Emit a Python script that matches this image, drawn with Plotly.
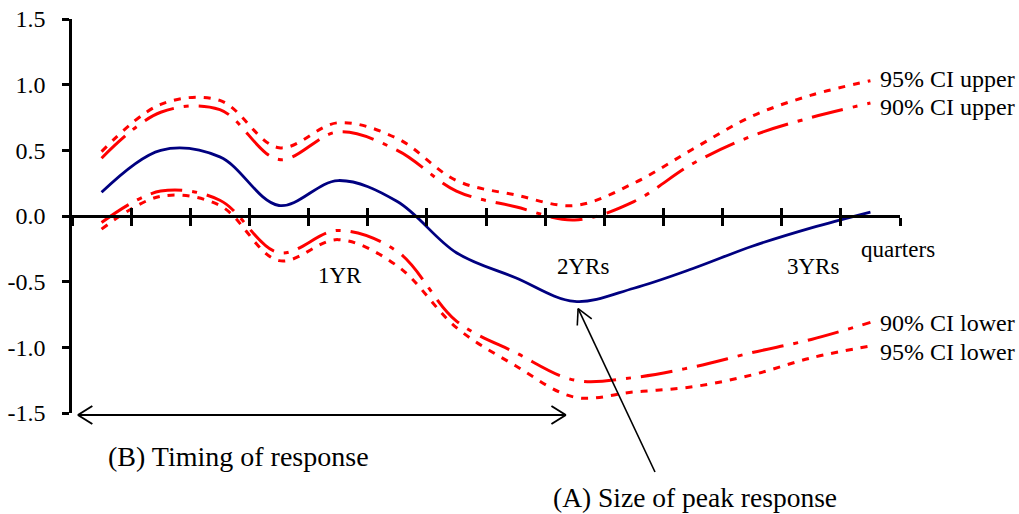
import math
import plotly.graph_objects as go

# ---------------- data ----------------
quarters = list(range(14))  # quarters after the shock (category positions)
response = [0.18, 0.50, 0.45, 0.08, 0.27, 0.11, -0.28, -0.47, -0.65, -0.55, -0.40, -0.23, -0.09, 0.03]
upper95 = [0.49, 0.85, 0.88, 0.52, 0.71, 0.59, 0.27, 0.16, 0.08, 0.25, 0.51, 0.76, 0.92, 1.03]
upper90 = [0.44, 0.79, 0.81, 0.43, 0.64, 0.50, 0.19, 0.07, -0.03, 0.11, 0.40, 0.61, 0.75, 0.86]
lower90 = [-0.05, 0.19, 0.12, -0.28, -0.11, -0.27, -0.80, -1.04, -1.25, -1.23, -1.15, -1.04, -0.94, -0.81]
lower95 = [-0.10, 0.15, 0.08, -0.34, -0.18, -0.38, -0.85, -1.14, -1.38, -1.34, -1.30, -1.21, -1.08, -0.99]

y_ticks = [-1.5, -1.0, -0.5, 0.0, 0.5, 1.0, 1.5]
y_ticktext = ["-1.5", "-1.0", "-0.5", "0.0", "0.5", "1.0", "1.5"]
year_labels = ["1YR", "2YRs", "3YRs"]
year_positions = [4, 8, 12]

# ---------------- geometry ----------------
WIDTH, HEIGHT = 1019, 514
L, T, PW, PH = 72, 19, 828, 394
XR = (-0.5, len(quarters) - 0.5)
YR = (-1.5, 1.5)
FONT = "Liberation Serif, Times New Roman, serif"
RED = "#FF0000"
NAVY = "#000080"


def d2px(x):
    return L + (x - XR[0]) / (XR[1] - XR[0]) * PW


def d2py(y):
    return T + (YR[1] - y) / (YR[1] - YR[0]) * PH


def pxp(px):
    return (px - L) / PW


def pyp(py):
    return (T + PH - py) / PH


fig = go.Figure()

fig.add_trace(go.Scatter(x=quarters, y=upper95, mode="lines",
                         line=dict(color=RED, width=3, dash="7px,8px", shape="spline", smoothing=1),
                         hoverinfo="skip"))
fig.add_trace(go.Scatter(x=quarters, y=upper90, mode="lines",
                         line=dict(color=RED, width=3, dash="32px,10px,5px,10px", shape="spline", smoothing=1),
                         hoverinfo="skip"))
fig.add_trace(go.Scatter(x=quarters, y=lower90, mode="lines",
                         line=dict(color=RED, width=3, dash="32px,10px,5px,10px", shape="spline", smoothing=1),
                         hoverinfo="skip"))
fig.add_trace(go.Scatter(x=quarters, y=lower95, mode="lines",
                         line=dict(color=RED, width=3, dash="7px,8px", shape="spline", smoothing=1),
                         hoverinfo="skip"))
fig.add_trace(go.Scatter(x=quarters, y=response, mode="lines", xaxis="x2", yaxis="y",
                         line=dict(color=NAVY, width=2.8, shape="spline", smoothing=1),
                         hoverinfo="skip"))

tick_x = [i - 0.5 for i in range(len(quarters) + 1)]

fig.update_layout(
    width=WIDTH, height=HEIGHT,
    margin=dict(l=L, r=WIDTH - L - PW, t=T, b=HEIGHT - T - PH, pad=0, autoexpand=False),
    paper_bgcolor="white", plot_bgcolor="white",
    showlegend=False,
    font=dict(family=FONT, size=24, color="black"),
    xaxis=dict(range=list(XR), anchor="free", position=0.5, showgrid=False, zeroline=False,
               showline=True, linecolor="black", linewidth=2.5, automargin=False,
               tickmode="array", tickvals=tick_x, showticklabels=False,
               ticks="outside", ticklen=8, tickwidth=2.5, tickcolor="black"),
    xaxis2=dict(range=list(XR), overlaying="x", anchor="free", position=0.5, showgrid=False,
                zeroline=False, showline=False, automargin=False,
                tickmode="array", tickvals=tick_x, showticklabels=False,
                ticks="inside", ticklen=8, tickwidth=2.5, tickcolor="black"),
    yaxis=dict(range=list(YR), anchor="x", showgrid=False, zeroline=False, automargin=False,
               showline=True, linecolor="black", linewidth=2.5,
               tickmode="array", tickvals=y_ticks, ticktext=y_ticktext,
               ticks="outside", ticklen=7, tickwidth=2.5, tickcolor="black",
               ticklabelstandoff=12,
               tickfont=dict(family=FONT, size=24, color="black")),
)

annotations = []
# year labels under the axis
year_label_py = {"1YR": 275, "2YRs": 266, "3YRs": 266}
year_label_dx = {"1YR": 2, "2YRs": 8, "3YRs": 2}
for lab, pos in zip(year_labels, year_positions):
    annotations.append(dict(x=pxp(d2px(pos) + year_label_dx[lab]), y=pyp(year_label_py[lab]),
                            xref="paper", yref="paper", text=lab, showarrow=False,
                            xanchor="center", yanchor="middle",
                            font=dict(family=FONT, size=23, color="black")))
annotations.append(dict(x=pxp(898), y=pyp(249), xref="paper", yref="paper", text="quarters",
                        showarrow=False, xanchor="center", yanchor="middle",
                        font=dict(family=FONT, size=23, color="black")))
# band labels
for txt, py in [("95% CI upper", 79), ("90% CI upper", 107), ("90% CI lower", 323), ("95% CI lower", 352)]:
    annotations.append(dict(x=pxp(878), y=pyp(py), xref="paper", yref="paper", text=txt,
                            showarrow=False, xanchor="left", yanchor="middle",
                            font=dict(family=FONT, size=24, color="black")))
annotations.append(dict(x=pxp(106), y=pyp(456), xref="paper", yref="paper",
                        text="(B) Timing of response", showarrow=False,
                        xanchor="left", yanchor="middle",
                        font=dict(family=FONT, size=28, color="black")))
annotations.append(dict(x=pxp(551), y=pyp(497), xref="paper", yref="paper",
                        text="(A) Size of peak response", showarrow=False,
                        xanchor="left", yanchor="middle",
                        font=dict(family=FONT, size=27.5, color="black")))
fig.update_layout(annotations=annotations)


def vhead(tipx, tipy, dirx, diry, length=16, ang=28):
    """Open V arrow head (in pixels) pointing along (dirx, diry) from its tail side."""
    n = math.hypot(dirx, diry)
    ux, uy = dirx / n, diry / n
    a = math.radians(ang)
    pts = []
    for s in (1, -1):
        ca, sa = math.cos(s * a), math.sin(s * a)
        bx = -(ux * ca - uy * sa)
        by = -(ux * sa + uy * ca)
        pts.append((tipx + bx * length, tipy + by * length))
    return pts


def seg(x0, y0, x1, y1, width):
    return dict(type="line", xref="paper", yref="paper",
                x0=pxp(x0), y0=pyp(y0), x1=pxp(x1), y1=pyp(y1),
                line=dict(color="black", width=width))


shapes = []
# (B) double arrow: from the y axis to the peak quarter
peak_i = response.index(min(response))
bx0, bx1, by = d2px(-0.4), d2px(peak_i - 0.15), d2py(-1.5) + 2
shapes.append(seg(bx0, by, bx1, by, 2))
for tipx, d in [(bx0, -1), (bx1, 1)]:
    for hx, hy in vhead(tipx, by, d, 0, length=17, ang=32):
        shapes.append(seg(tipx, by, hx, hy, 2))

# (A) arrow to the peak response
px_peak, py_peak = d2px(peak_i), d2py(response[peak_i])
tailx, taily = 655, 472
dx, dy = px_peak - tailx, py_peak - taily
n = math.hypot(dx, dy)
tipx, tipy = px_peak - dx / n * 8, py_peak - dy / n * 8
shapes.append(seg(tailx, taily, tipx, tipy, 1.6))
for hx, hy in vhead(tipx, tipy, dx, dy, length=17, ang=28):
    shapes.append(seg(tipx, tipy, hx, hy, 1.6))
fig.update_layout(shapes=shapes)

fig.write_html("out.html")
